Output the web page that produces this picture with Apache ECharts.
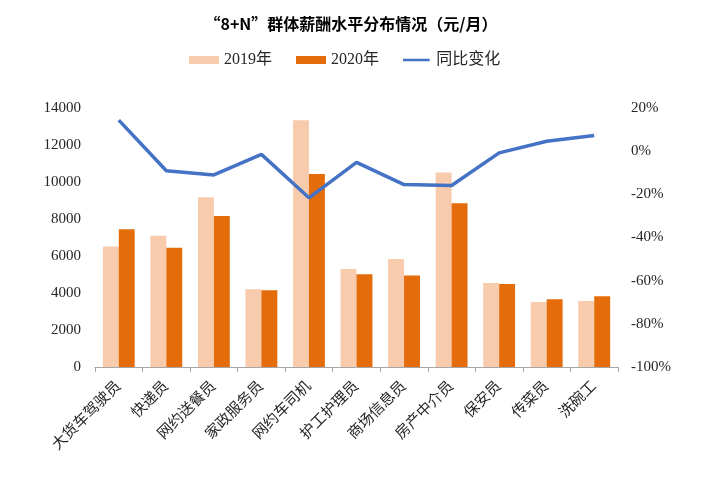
<!DOCTYPE html>
<html>
<head>
<meta charset="utf-8">
<script src="https://cdn.jsdelivr.net/npm/echarts@6/dist/echarts.min.js"></script>
<style>
html,body{margin:0;padding:0;background:#fff;}
#chart{width:702px;height:478px;}
</style>
</head>
<body>
<div id="chart"></div>
<script>
var categories = ['大货车驾驶员','快递员','网约送餐员','家政服务员','网约车司机','护工护理员','商场信息员','房产中介员','保安员','传菜员','洗碗工'];
var salary2019 = [6520, 7100, 9170, 4200, 13340, 5300, 5840, 10520, 4540, 3510, 3570];
var salary2020 = [7450, 6450, 8160, 4150, 10430, 5010, 4940, 8850, 4490, 3660, 3820];
var yoyChange = [14.4, -9.1, -11.0, -1.5, -21.6, -5.2, -15.5, -15.9, -0.8, 4.6, 7.3];
var seriesNames = ['2019年','2020年','同比变化'];

var serif = '"Liberation Serif", "Noto Sans CJK SC", serif';
var lineIcon = 'path://M0,0h0.01v0.01h-0.01z M0,3h30v3h-30z M0,8.99h0.01v0.01h-0.01z';
var chart = echarts.init(document.getElementById('chart'), null, {renderer:'canvas'});
chart.setOption({
  animation:false,
  backgroundColor:'#ffffff',
  title:{
    text:'“8+N”群体薪酬水平分布情况（元/月）',
    left:'center', top:11,
    textStyle:{fontSize:16, fontWeight:'bold', color:'#000', fontFamily:'"Noto Sans CJK SC", sans-serif'}
  },
  legend:{
    left:184, top:47,
    itemWidth:30, itemHeight:8, itemGap:24,
    textStyle:{fontSize:16, color:'#262626', fontFamily:serif},
    data:[
      {name:seriesNames[0], icon:'rect'},
      {name:seriesNames[1], icon:'rect'},
      {name:seriesNames[2], icon:lineIcon, itemStyle:{color:'#4472C4'}}
    ]
  },
  grid:{left:95, right:84, top:108, bottom:111, containLabel:false},
  xAxis:{
    type:'category',
    data:categories,
    axisLine:{lineStyle:{color:'#a6a6a6', width:1}},
    axisTick:{show:true, length:5, lineStyle:{color:'#a6a6a6'}},
    axisLabel:{rotate:45, fontSize:15, color:'#262626', margin:17, interval:0, fontFamily:serif}
  },
  yAxis:[
    {
      type:'value', min:0, max:14000, interval:2000,
      axisLine:{show:false}, axisTick:{show:false}, splitLine:{show:false},
      axisLabel:{fontSize:15, color:'#262626', margin:14, fontFamily:serif, formatter:function(v){return String(v);}}
    },
    {
      type:'value', min:-100, max:20, interval:20, position:'right',
      axisLine:{show:false}, axisTick:{show:false}, splitLine:{show:false},
      axisLabel:{fontSize:15, color:'#262626', margin:13, fontFamily:serif, formatter:'{value}%'}
    }
  ],
  series:[
    {
      name:seriesNames[0], type:'bar', data:salary2019,
      barGap:'0%', barCategoryGap:'33%',
      itemStyle:{color:'#F8CBAD'}
    },
    {
      name:seriesNames[1], type:'bar', data:salary2020,
      itemStyle:{color:'#E46C0A'}
    },
    {
      name:seriesNames[2], type:'line', yAxisIndex:1, data:yoyChange,
      symbol:'none', lineStyle:{color:'#4472C4', width:3.5}, itemStyle:{color:'#4472C4'}
    }
  ]
});
</script>
</body>
</html>
